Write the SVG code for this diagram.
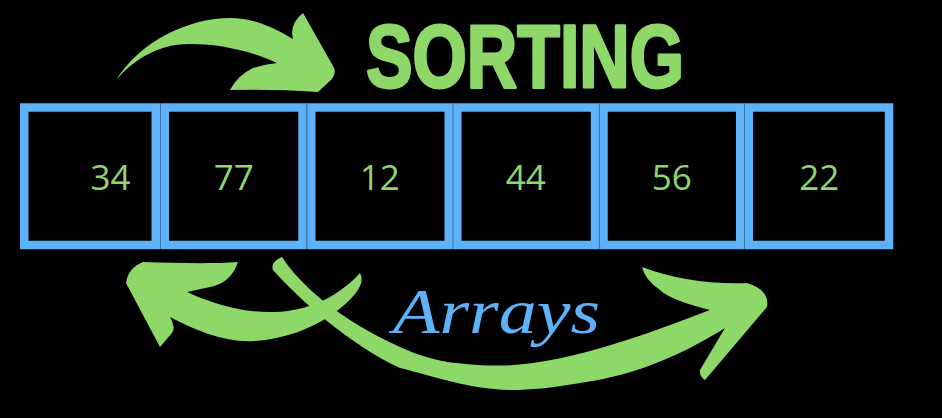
<svg xmlns="http://www.w3.org/2000/svg" width="942" height="418" viewBox="0 0 942 418">
<style>
.box{fill:#000;stroke:#5DB2F9;stroke-width:8.5}
.sep{stroke:#3C76A6;stroke-width:1}
.num{font-family:"Open Sans","Noto Sans",sans-serif;font-size:35px;fill:#8ED869;text-anchor:middle}
.arrow{fill:#8ED869}
</style>
<rect width="942" height="418" fill="#000"/>
<text id="title" x="366" y="87" font-family="Liberation Sans, Arial, sans-serif" font-weight="bold" font-size="89" fill="#8ED869" stroke="#8ED869" stroke-width="3" stroke-linejoin="round" textLength="318" lengthAdjust="spacingAndGlyphs">SORTING</text>
<g id="node-0"><rect class="box" x="24.25" y="107.5" width="131.5" height="137.5"/><text class="num" x="110.5" y="189.5">34</text></g>
<g id="node-1"><rect class="box" x="164.75" y="107.5" width="137.75" height="137.5"/><text class="num" x="233.7" y="189.5">77</text></g>
<g id="node-2"><rect class="box" x="311.25" y="107.5" width="137.5" height="137.5"/><text class="num" x="379.7" y="189.5">12</text></g>
<g id="node-3"><rect class="box" x="457.25" y="107.5" width="137.8" height="137.5"/><text class="num" x="525.8" y="189.5">44</text></g>
<g id="node-4"><rect class="box" x="603.5" y="107.5" width="136.7" height="137.5"/><text class="num" x="671.7" y="189.5">56</text></g>
<g id="node-5"><rect class="box" x="748.75" y="107.5" width="140.3" height="137.5"/><text class="num" x="819.2" y="189.5">22</text></g>
<g id="separators">
<line class="sep" x1="160.5" y1="103.5" x2="160.5" y2="249"/>
<line class="sep" x1="307" y1="103.5" x2="307" y2="249"/>
<line class="sep" x1="453" y1="103.5" x2="453" y2="249"/>
<line class="sep" x1="599.3" y1="103.5" x2="599.3" y2="249"/>
<line class="sep" x1="744.5" y1="103.5" x2="744.5" y2="249"/>
</g>
<g id="connectors">
<path class="arrow" d="M115,82 C140,40 190,18 230,18 C255,18 275,28 293,39 Q289,24 303,13 L333,66 Q337,72 332,79 L318,92 Q270,89 230,90 Q238,75 253,68 Q265,64 277,63 C245,48 200,40 170,46 C145,52 125,68 115,82 Z"/>
<path class="arrow" d="M238,262 Q231,283 210,287 L187,292 C215,305 245,313 275,312 C305,311 335,300 360,273 Q364,280 358,290 C340,315 300,338 255,341 C225,343 195,330 170,317 Q176,328 172,333 L160,347 L126,283 Q128,268 143,262 C175,263 210,264 238,262 Z"/>
<path class="arrow" d="M282,257 C300,285 340,320 400,347 C420,356 440,362 457,363 C480,366 500,366 513,365 C560,362 620,345 710,310 Q670,300 660,290 Q645,280 642,267 Q690,285 747,283 Q770,290 767,307 L705,380 Q699,376 700,370 L725,328 C690,350 640,375 580,383 C550,388 530,390 513,390 C470,390 430,375 400,368 C350,345 300,300 273,270 Q270,262 282,257 Z"/>
</g>
<text id="subtitle" x="393" y="333" font-family="Liberation Serif, serif" font-style="italic" font-size="64" fill="#5DB2F9" textLength="207" lengthAdjust="spacingAndGlyphs">Arrays</text>
</svg>
